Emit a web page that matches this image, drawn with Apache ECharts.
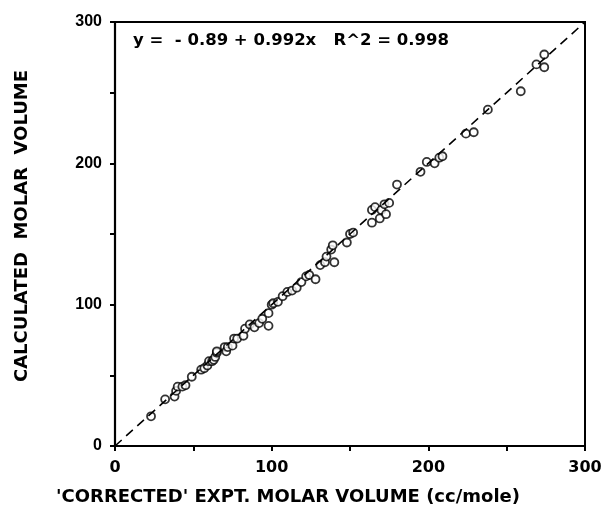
<!DOCTYPE html>
<html>
<head>
<meta charset="utf-8">
<script src="https://cdn.jsdelivr.net/npm/echarts@6/dist/echarts.min.js"></script>
<style>html,body{margin:0;padding:0;background:#fff}#c{width:606px;height:518px}</style>
</head>
<body>
<div id="c"></div>
<script>
// 'Corrected' experimental molar volume (x) vs calculated molar volume (y)
var exptVolume = [23,32,38,39,40,43,45,49,55,57,59,60,62,63,64,65,65,70,71,72,75,76,78,82,83,86,89,92,94,98,98,100,101,104,107,110,113,116,119,122,124,128,131,134,135,138,139,140,148,150,152,164,164,166,169,170,172,173,175,180,195,199,204,207,209,224,229,238,259,269,274,274];
var calcVolume = [21,33,35,39,42,42,43,49,54,55,57,60,60,61,63,66,67,70,67,70,71,76,76,78,83,86,84,87,90,94,85,100,101,102,106,109,110,112,116,120,121,118,128,130,134,139,142,130,144,150,151,158,167,169,161,167,171,164,172,185,194,201,200,204,205,221,222,238,251,270,277,268];
var identityLine = [[0,0],[300,300]];
var axisMin = 0, axisMax = 300, tickStep = 50, labelStep = 100;
var equationText = 'y =  - 0.89 + 0.992x   R^2 = 0.998';
var xTitle = "'CORRECTED' EXPT. MOLAR VOLUME (cc/mole)";
var yTitle = 'CALCULATED  MOLAR  VOLUME';

var pts = exptVolume.map(function(v,i){return [v, calcVolume[i]];});
var FONT = '"Liberation Sans", Arial, Helvetica, sans-serif';
var WIDE = '"DejaVu Sans", "Liberation Sans", Arial, sans-serif';
function lbl(v){ return (v % labelStep === 0) ? String(v) : ''; }
var axisCommon = {
  type:'value', min:axisMin, max:axisMax, interval:tickStep,
  splitLine:{show:false},
  axisLine:{show:true, onZero:false, lineStyle:{color:'#000', width:2.2}},
  axisTick:{show:true, inside:false, length:5, lineStyle:{color:'#000', width:2}},
  axisLabel:{formatter:lbl, color:'#000', fontFamily:FONT, fontWeight:'bold', fontSize:16}
};
var chart = echarts.init(document.getElementById('c'), null, {renderer:'canvas'});
chart.setOption({
  animation:false,
  backgroundColor:'#fff',
  grid:{left:115, right:21, top:22, bottom:72, show:true, borderColor:'#000', borderWidth:2, containLabel:false},
  xAxis: Object.assign({}, axisCommon, {axisLabel:Object.assign({}, axisCommon.axisLabel, {margin:14, fontFamily:WIDE})}),
  yAxis: Object.assign({}, axisCommon, {axisLabel:Object.assign({}, axisCommon.axisLabel, {margin:13})}),
  graphic:[
    {type:'text', left:133, top:32, style:{text:equationText, fill:'#000', font:'bold 16.5px ' + WIDE}},
    {type:'text', x:288, y:497, style:{text:xTitle, fill:'#000', font:'bold 18px ' + WIDE, align:'center', verticalAlign:'middle'}},
    {type:'text', x:22, y:226, rotation:Math.PI/2, style:{text:yTitle, fill:'#000', font:'bold 18px ' + WIDE, align:'center', verticalAlign:'middle'}}
  ],
  series:[
    {type:'line', data:identityLine, symbol:'none', silent:true,
     lineStyle:{color:'#000', width:1.6, type:[9,6]}},
    {type:'scatter', data:pts, symbol:'circle', symbolSize:8,
     itemStyle:{color:'#fff', borderColor:'#000', borderWidth:1.8}}
  ]
});
</script>
</body>
</html>
